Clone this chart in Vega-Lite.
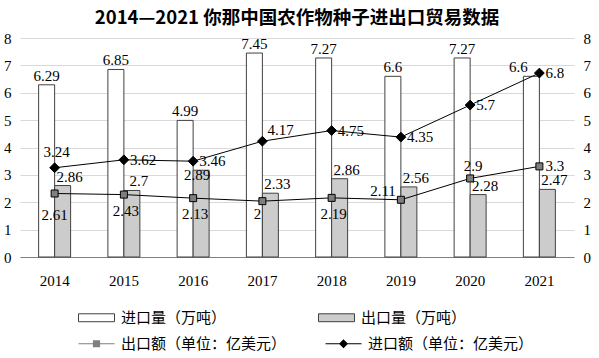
{
  "$schema": "https://vega.github.io/schema/vega-lite/v6.json",
  "autosize": {"type": "none"},
  "width": 554,
  "height": 219,
  "padding": {"left": 20, "top": 38, "right": 25, "bottom": 101},
  "title": {"text": "2014—2021 你那中国农作物种子进出口贸易数据", "font": "Noto Sans CJK SC", "fontSize": 18.5, "fontWeight": "bold", "color": "#000", "anchor": "middle", "frame": "group", "offset": 4},
  "config": {
    "view": {"stroke": null},
    "text": {"font": "Liberation Serif", "fontSize": 15, "color": "#000"},
    "axis": {"labelFont": "Liberation Serif", "labelFontSize": 15, "labelColor": "#000", "ticks": false, "title": null},
    "axisY": {"tickCount": 10, "labelOverlap": false}
  },
  "data": {"values": [
    {"year": "2014", "进口量（万吨）": 6.29, "出口量（万吨）": 2.61, "exp_vol_label": "2.86", "出口额（单位：亿美元）": 2.32, "exp_amt_label": "2.61", "进口额（单位：亿美元）": 3.26, "imp_amt_label": "3.24"},
    {"year": "2015", "进口量（万吨）": 6.85, "出口量（万吨）": 2.43, "exp_vol_label": "2.7", "出口额（单位：亿美元）": 2.28, "exp_amt_label": "2.43", "进口额（单位：亿美元）": 3.55, "imp_amt_label": "3.62"},
    {"year": "2016", "进口量（万吨）": 4.99, "出口量（万吨）": 3.17, "exp_vol_label": "2.89", "出口额（单位：亿美元）": 2.15, "exp_amt_label": "2.13", "进口额（单位：亿美元）": 3.5, "imp_amt_label": "3.46"},
    {"year": "2017", "进口量（万吨）": 7.45, "出口量（万吨）": 2.33, "exp_vol_label": "2.33", "出口额（单位：亿美元）": 2.04, "exp_amt_label": "2", "进口额（单位：亿美元）": 4.23, "imp_amt_label": "4.17"},
    {"year": "2018", "进口量（万吨）": 7.27, "出口量（万吨）": 2.86, "exp_vol_label": "2.86", "出口额（单位：亿美元）": 2.16, "exp_amt_label": "2.19", "进口额（单位：亿美元）": 4.62, "imp_amt_label": "4.75"},
    {"year": "2019", "进口量（万吨）": 6.6, "出口量（万吨）": 2.56, "exp_vol_label": "2.56", "出口额（单位：亿美元）": 2.09, "exp_amt_label": "2.11", "进口额（单位：亿美元）": 4.38, "imp_amt_label": "4.35"},
    {"year": "2020", "进口量（万吨）": 7.27, "出口量（万吨）": 2.28, "exp_vol_label": "2.28", "出口额（单位：亿美元）": 2.87, "exp_amt_label": "2.9", "进口额（单位：亿美元）": 5.55, "imp_amt_label": "5.7"},
    {"year": "2021", "进口量（万吨）": 6.6, "出口量（万吨）": 2.47, "exp_vol_label": "2.47", "出口额（单位：亿美元）": 3.31, "exp_amt_label": "3.3", "进口额（单位：亿美元）": 6.72, "imp_amt_label": "6.8"}
  ]},
  "encoding": {
    "x": {"field": "year", "type": "nominal", "scale": {"paddingInner": 0.538, "paddingOuter": 0.269}, "axis": {"labelAngle": 0, "domainColor": "#808080", "labelPadding": 16, "grid": false}}
  },
  "layer": [
    {
      "layer": [
        {
          "transform": [{"fold": ["进口量（万吨）", "出口量（万吨）"], "as": ["series", "value"]}],
          "mark": {"type": "bar", "stroke": "#404040", "strokeWidth": 1},
          "encoding": {
            "xOffset": {"field": "series", "type": "nominal", "sort": null, "scale": {"domain": ["进口量（万吨）", "出口量（万吨）"], "paddingInner": 0, "paddingOuter": 0}},
            "y": {"field": "value", "type": "quantitative", "scale": {"domain": [0, 8], "nice": false}, "axis": {"values": [0, 1, 2, 3, 4, 5, 6, 7, 8], "tickCount": 10, "labelOverlap": false, "grid": true, "gridColor": "#d9d9d9", "domain": false, "labelPadding": 9}},
            "fill": {"field": "series", "type": "nominal", "sort": null, "scale": {"domain": ["进口量（万吨）", "出口量（万吨）"], "range": ["#ffffff", "#cccccc"]},
              "legend": {"orient": "none", "legendX": 58, "legendY": 261, "direction": "horizontal", "columns": 2, "columnPadding": 89, "padding": 0, "title": null, "symbolType": "M-1,-0.22H1V0.22H-1Z", "symbolSize": 1296, "symbolStrokeColor": "#404040", "symbolStrokeWidth": 1, "labelFont": "Noto Sans CJK SC", "labelFontSize": 15, "labelColor": "#000", "labelLimit": 300, "labelOffset": 6}}
          }
        },
        {
          "transform": [{"filter": {"field": "year", "oneOf": ["2014", "2015", "2016", "2017", "2018", "2019", "2020"]}}],
          "mark": {"type": "text", "baseline": "bottom", "dx": -8, "dy": -1},
          "encoding": {"y": {"field": "进口量（万吨）", "type": "quantitative"}, "text": {"field": "进口量（万吨）", "type": "quantitative"}}
        },
        {
          "transform": [{"filter": {"field": "year", "equal": "2021"}}],
          "mark": {"type": "text", "baseline": "bottom", "dx": -21, "dy": -1},
          "encoding": {"y": {"field": "进口量（万吨）", "type": "quantitative"}, "text": {"field": "进口量（万吨）", "type": "quantitative"}}
        },
        {
          "transform": [{"filter": {"field": "year", "oneOf": ["2014", "2015", "2017", "2018", "2019", "2020", "2021"]}}],
          "mark": {"type": "text", "baseline": "bottom", "dx": 15, "dy": -1},
          "encoding": {"y": {"field": "出口量（万吨）", "type": "quantitative"}, "text": {"field": "exp_vol_label", "type": "nominal"}}
        },
        {
          "transform": [{"filter": {"field": "year", "equal": "2016"}}],
          "mark": {"type": "text", "baseline": "middle", "dx": 4, "dy": 5},
          "encoding": {"y": {"field": "出口量（万吨）", "type": "quantitative"}, "text": {"field": "exp_vol_label", "type": "nominal"}}
        }
      ]
    },
    {
      "layer": [
        {
          "transform": [{"fold": ["出口额（单位：亿美元）", "进口额（单位：亿美元）"], "as": ["series2", "amount"]}],
          "mark": {"type": "line", "color": "#000", "strokeWidth": 1},
          "encoding": {
            "y": {"field": "amount", "type": "quantitative", "scale": {"domain": [0, 8], "nice": false}, "axis": {"orient": "right", "values": [0, 1, 2, 3, 4, 5, 6, 7, 8], "tickCount": 10, "labelOverlap": false, "grid": false, "domain": false, "labelPadding": 9}},
            "detail": {"field": "series2", "type": "nominal"}
          }
        },
        {
          "transform": [{"fold": ["出口额（单位：亿美元）", "进口额（单位：亿美元）"], "as": ["series2", "amount"]}],
          "mark": {"type": "point", "filled": true, "stroke": "#000", "strokeWidth": 1, "opacity": 0, "size": 49},
          "encoding": {
            "y": {"field": "amount", "type": "quantitative"},
            "shape": {"field": "series2", "type": "nominal", "sort": null, "scale": {"domain": ["出口额（单位：亿美元）", "进口额（单位：亿美元）"], "range": ["M-1,-0.028H1V0.028H-1ZM-0.2,-0.2H0.2V0.2H-0.2Z", "M-1,-0.028H1V0.028H-1ZM0,-0.25L0.25,0L0,0.25L-0.25,0Z"]},
              "legend": {"orient": "none", "legendX": 58, "legendY": 287, "direction": "horizontal", "columns": 2, "columnPadding": 36, "padding": 0, "title": null, "symbolSize": 1296, "symbolOpacity": 1, "symbolStrokeColor": "#000", "symbolStrokeWidth": 1, "labelFont": "Noto Sans CJK SC", "labelFontSize": 15, "labelColor": "#000", "labelLimit": 300, "labelOffset": 6,
                "encode": {"symbols": {"stroke": {"value": "#000"}, "strokeWidth": {"value": 1}, "strokeOpacity": {"value": 1}, "opacity": {"value": 1}}}}},
            "fill": {"field": "series2", "type": "nominal", "sort": null, "scale": {"domain": ["出口额（单位：亿美元）", "进口额（单位：亿美元）"], "range": ["#7f7f7f", "#000000"]}}
          }
        },
        {
          "mark": {"type": "point", "filled": true, "shape": "square", "size": 49, "fill": "#7f7f7f", "stroke": "#000", "strokeWidth": 1, "opacity": 1},
          "encoding": {"y": {"field": "出口额（单位：亿美元）", "type": "quantitative"}}
        },
        {
          "mark": {"type": "point", "filled": true, "shape": "M0,-1.4L1.4,0L0,1.4L-1.4,0Z", "size": 49, "fill": "#000", "stroke": "#000", "strokeWidth": 1, "opacity": 1},
          "encoding": {"y": {"field": "进口额（单位：亿美元）", "type": "quantitative"}}
        },
        {
          "transform": [{"filter": {"field": "year", "equal": "2014"}}],
          "mark": {"type": "text", "baseline": "middle", "dy": -16, "dx": 2},
          "encoding": {"y": {"field": "进口额（单位：亿美元）", "type": "quantitative"}, "text": {"field": "imp_amt_label", "type": "nominal"}}
        },
        {
          "transform": [{"filter": {"field": "year", "equal": "2017"}}],
          "mark": {"type": "text", "baseline": "middle", "align": "left", "dx": 5, "dy": -11},
          "encoding": {"y": {"field": "进口额（单位：亿美元）", "type": "quantitative"}, "text": {"field": "imp_amt_label", "type": "nominal"}}
        },
        {
          "transform": [{"filter": {"field": "year", "oneOf": ["2015", "2016", "2018", "2019", "2020", "2021"]}}],
          "mark": {"type": "text", "baseline": "middle", "align": "left", "dx": 6},
          "encoding": {"y": {"field": "进口额（单位：亿美元）", "type": "quantitative"}, "text": {"field": "imp_amt_label", "type": "nominal"}}
        },
        {
          "transform": [{"filter": {"field": "year", "equal": "2014"}}],
          "mark": {"type": "text", "baseline": "middle", "dy": 22},
          "encoding": {"y": {"field": "出口额（单位：亿美元）", "type": "quantitative"}, "text": {"field": "exp_amt_label", "type": "nominal"}}
        },
        {
          "transform": [{"filter": {"field": "year", "oneOf": ["2015", "2016", "2018"]}}],
          "mark": {"type": "text", "baseline": "middle", "dy": 16, "dx": 2},
          "encoding": {"y": {"field": "出口额（单位：亿美元）", "type": "quantitative"}, "text": {"field": "exp_amt_label", "type": "nominal"}}
        },
        {
          "transform": [{"filter": {"field": "year", "equal": "2017"}}],
          "mark": {"type": "text", "baseline": "middle", "dy": 13, "dx": -5},
          "encoding": {"y": {"field": "出口额（单位：亿美元）", "type": "quantitative"}, "text": {"field": "exp_amt_label", "type": "nominal"}}
        },
        {
          "transform": [{"filter": {"field": "year", "equal": "2019"}}],
          "mark": {"type": "text", "baseline": "middle", "align": "right", "dx": -5, "dy": -9},
          "encoding": {"y": {"field": "出口额（单位：亿美元）", "type": "quantitative"}, "text": {"field": "exp_amt_label", "type": "nominal"}}
        },
        {
          "transform": [{"filter": {"field": "year", "equal": "2020"}}],
          "mark": {"type": "text", "baseline": "middle", "dx": 3, "dy": -12},
          "encoding": {"y": {"field": "出口额（单位：亿美元）", "type": "quantitative"}, "text": {"field": "exp_amt_label", "type": "nominal"}}
        },
        {
          "transform": [{"filter": {"field": "year", "equal": "2021"}}],
          "mark": {"type": "text", "baseline": "middle", "align": "left", "dx": 6},
          "encoding": {"y": {"field": "出口额（单位：亿美元）", "type": "quantitative"}, "text": {"field": "exp_amt_label", "type": "nominal"}}
        }
      ]
    }
  ],
  "resolve": {"scale": {"y": "independent", "fill": "independent", "shape": "independent"}, "legend": {"fill": "independent", "shape": "independent"}}
}
